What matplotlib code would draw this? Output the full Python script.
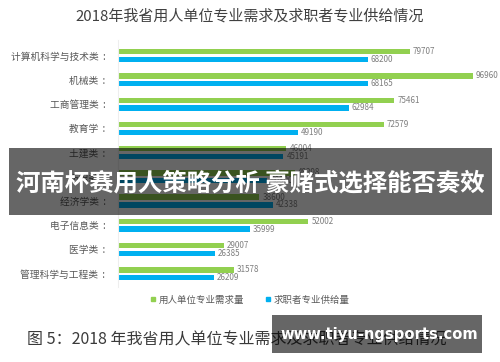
import numpy as np
import matplotlib
matplotlib.use('Agg')
from matplotlib import pyplot as plt
from matplotlib.patches import Rectangle
from matplotlib.lines import Line2D

plt.rcParams['font.family'] = ['Noto Sans CJK SC', 'DejaVu Sans']

categories = ['计算机科学与技术类', '机械类', '工商管理类', '教育学', '土建类',
              '纺织类', '经济学类', '电子信息类', '医学类', '管理科学与工程类']
demand = [79707, 96960, 75461, 72579, 46004, 48298, 38600, 52002, 29007, 31578]
supply = [68200, 68165, 62984, 49190, 45191, 40800, 42338, 35999, 26385, 26209]

green = '#92D050'
blue = '#00B0F0'
grey = '#7f7f7f'

fig = plt.figure(figsize=(5, 3.62), dpi=100)
ax = fig.add_axes([0.236, 0.207, 0.714, 0.683])

y = np.arange(len(categories))
h = 0.22
ax.barh(y - 0.16, demand, height=h, color=green)
ax.barh(y + 0.16, supply, height=h, color=blue)

for i in range(len(categories)):
    ax.text(demand[i] + 800, y[i] - 0.16, str(demand[i]), va='center', ha='left',
            fontsize=5.8, color=grey)
    ax.text(supply[i] + 800, y[i] + 0.16, str(supply[i]), va='center', ha='left',
            fontsize=5.8, color=grey)

ax.set_xlim(0, 97500)
ax.set_ylim(len(categories) - 0.45, -0.65)
ax.set_yticks(y)
ax.set_yticklabels([c + '  :' for c in categories], fontsize=7, color='#595959')
ax.tick_params(axis='y', length=0, pad=9)
ax.set_xticks([])
for s in ['top', 'right', 'bottom']:
    ax.spines[s].set_visible(False)
ax.spines['left'].set_color('#eeeeee')

fig.text(0.5, 1 - 16 / 362, '2018年我省用人单位专业需求及求职者专业供给情况',
         ha='center', va='center', fontsize=10.8, color='#404040')

handles = [Line2D([], [], marker='s', linestyle='', color=green, markersize=3.5),
           Line2D([], [], marker='s', linestyle='', color=blue, markersize=3.5)]
fig.legend(handles, ['用人单位专业需求量', '求职者专业供给量'], loc='center',
           bbox_to_anchor=(0.5, 1 - 300 / 362), ncol=2, frameon=False,
           fontsize=6.8, labelcolor='#595959', handlelength=0.6, handletextpad=0.3,
           columnspacing=2.2)

fig.text(27 / 500, 1 - 340 / 362, '图 5：2018 年我省用人单位专业需求及求职者专业供给情况',
         ha='left', va='center', fontsize=11.5, color='#3a3a3a')

# overlay banner
fig.patches.append(Rectangle((9 / 500, 1 - 215 / 362), 483 / 500, 67 / 362,
                             transform=fig.transFigure, facecolor='black',
                             alpha=0.6, zorder=5))
fig.text(0.5, 1 - 183 / 362, '河南杯赛用人策略分析 豪赌式选择能否奏效', ha='center',
         va='center', fontsize=17.6, color='white', fontweight='bold', zorder=6)

# watermark
fig.patches.append(Rectangle((272 / 500, 1 - 353 / 362), 210 / 500, 38 / 362,
                             transform=fig.transFigure, facecolor='black',
                             alpha=0.6, zorder=5))
fig.text(379 / 500, 1 - 334 / 362, 'www.tiyu-ngsports.com', ha='center', va='center',
         fontsize=10.6, color='white', fontweight='bold', family='DejaVu Sans', zorder=6)

fig.savefig('out.png', dpi=100, facecolor='white')
